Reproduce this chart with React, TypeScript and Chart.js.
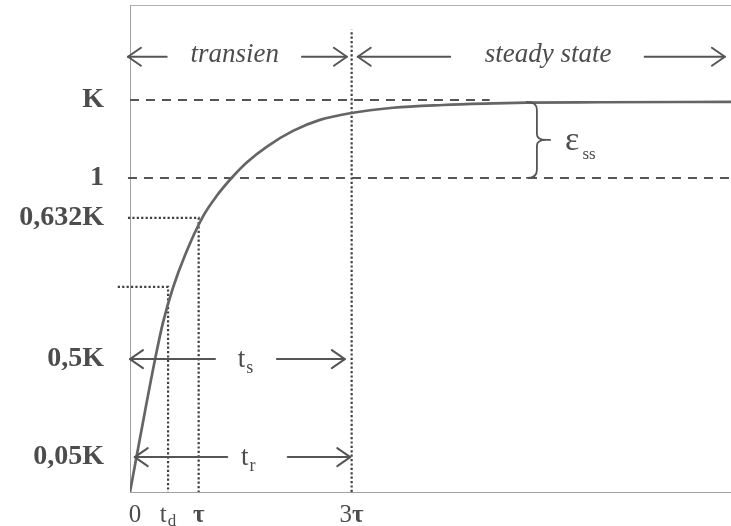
import React, { useEffect, useRef } from "react";
import { Chart, registerables } from "chart.js";

Chart.register(...registerables);

// Step response of a first-order system (schematic, K-normalised levels).
const responseTime = [0, 0.103, 0.221, 0.368, 0.485, 0.632, 0.809, 1.074, 1.279, 1.5, 1.721, 2.015, 2.397, 2.794, 3.235, 3.868, 4.603, 5.338, 5.838, 6.912, 8.84];
const responseValue = [0, 0.096, 0.206, 0.338, 0.432, 0.521, 0.604, 0.703, 0.756, 0.802, 0.841, 0.881, 0.921, 0.949, 0.966, 0.98, 0.987, 0.991, 0.993, 0.994, 0.995];

// Labelled levels on the vertical axis
const levelValues = [1, 0.801, 0.699, 0.339, 0.089];
const levelLabels = ["K", "1", "0,632K", "0,5K", "0,05K"];
const delayLevel = 0.523;

// Time marks on the horizontal axis
const timeMarks = [0, 0.56, 1.01, 3.26];
const timeMain = ["0", "t", "τ", "3τ"];
const timeSub = ["", "d", "", ""];

const timeMax = 8.84;
const valueMax = 1.242;

// Region arrows (transient / steady state) along the top
const phaseLevel = 1.11;
const phaseArrows: [number, number][] = [[0.54, -0.03], [2.53, 3.19], [4.71, 3.35], [7.57, 8.75]];
const phaseTexts = ["transien", "steady state"];
const phaseTextAt = [1.54, 6.15];

// Settling-time and rise-time spans
const spanLevels = [0.339, 0.089];
const spanArrows: [number, number][][] = [
  [[1.25, 0], [2.16, 3.16]],
  [[1.43, 0.07], [2.32, 3.24]],
];
const spanMain = ["t", "t"];
const spanSub = ["s", "r"];
const spanTextAt = [1.7, 1.74];

// Steady-state error brace between K and 1
const braceTime = 5.985;
const braceTipTime = 6.18;
const errorTextAt = 6.4;

const INK = "#4c4c4c";
const SERIF = "'Liberation Serif', 'DejaVu Serif', serif";

function drawArrow(ctx: CanvasRenderingContext2D, x1: number, y: number, x2: number) {
  const d = Math.sign(x2 - x1);
  ctx.beginPath();
  ctx.moveTo(x1, y);
  ctx.lineTo(x2, y);
  ctx.stroke();
  ctx.beginPath();
  ctx.moveTo(x2 - d * 13, y - 9);
  ctx.lineTo(x2, y);
  ctx.lineTo(x2 - d * 13, y + 9);
  ctx.stroke();
}

function drawSubText(
  ctx: CanvasRenderingContext2D,
  main: string,
  sub: string,
  cx: number,
  baseline: number,
  mainFont: string,
  subFont: string,
  subDrop: number
) {
  ctx.font = mainFont;
  const wm = ctx.measureText(main).width;
  ctx.font = subFont;
  const ws = sub ? ctx.measureText(sub).width + 1 : 0;
  const left = cx - (wm + ws) / 2;
  ctx.textAlign = "left";
  ctx.textBaseline = "alphabetic";
  ctx.font = mainFont;
  ctx.fillText(main, left, baseline);
  if (sub) {
    ctx.font = subFont;
    ctx.fillText(sub, left + wm + 1, baseline + subDrop);
  }
}

const annotations = {
  id: "responseAnnotations",
  afterDatasetsDraw(chart: any) {
    const ctx: CanvasRenderingContext2D = chart.ctx;
    const xs = chart.scales.x;
    const ys = chart.scales.y;
    ctx.save();
    ctx.strokeStyle = "#555";
    ctx.fillStyle = INK;
    ctx.lineWidth = 2;
    ctx.lineCap = "round";
    ctx.lineJoin = "round";

    // top phase arrows
    const py = ys.getPixelForValue(phaseLevel);
    phaseArrows.forEach(([a, b]) => drawArrow(ctx, xs.getPixelForValue(a), py, xs.getPixelForValue(b)));
    ctx.font = `italic 27px ${SERIF}`;
    ctx.textAlign = "center";
    ctx.textBaseline = "alphabetic";
    phaseTexts.forEach((t, i) => ctx.fillText(t, xs.getPixelForValue(phaseTextAt[i]), py + 5));

    // t_s and t_r spans
    spanLevels.forEach((lv, i) => {
      const sy = ys.getPixelForValue(lv);
      spanArrows[i].forEach(([a, b]) => drawArrow(ctx, xs.getPixelForValue(a), sy, xs.getPixelForValue(b)));
      drawSubText(ctx, spanMain[i], spanSub[i], xs.getPixelForValue(spanTextAt[i]), sy + 8,
        `27px ${SERIF}`, `18px ${SERIF}`, 6);
    });

    // brace marking the steady-state error
    const bx = xs.getPixelForValue(braceTime);
    const tx = xs.getPixelForValue(braceTipTime);
    const yT = ys.getPixelForValue(responseValue[responseValue.length - 1]);
    const yB = ys.getPixelForValue(levelValues[1]);
    const yM = (yT + yB) / 2;
    ctx.lineWidth = 1.8;
    ctx.beginPath();
    ctx.moveTo(bx - 10, yT);
    ctx.quadraticCurveTo(bx, yT, bx, yT + 8);
    ctx.lineTo(bx, yM - 6);
    ctx.quadraticCurveTo(bx, yM, tx - 4, yM);
    ctx.lineTo(tx, yM);
    ctx.moveTo(tx - 4, yM);
    ctx.quadraticCurveTo(bx, yM, bx, yM + 6);
    ctx.lineTo(bx, yB - 8);
    ctx.quadraticCurveTo(bx, yB, bx - 10, yB);
    ctx.stroke();

    ctx.textAlign = "left";
    ctx.textBaseline = "alphabetic";
    const ex = xs.getPixelForValue(errorTextAt);
    ctx.font = `34px ${SERIF}`;
    ctx.fillText("ε", ex, yM + 10);
    const ew = ctx.measureText("ε").width;
    ctx.font = `17px ${SERIF}`;
    ctx.fillText("ss", ex + ew + 3, yM + 19);

    // time axis labels
    const axisY = chart.chartArea.bottom;
    timeMarks.forEach((t, i) => {
      const cx = xs.getPixelForValue(t) + (i === 0 ? 5 : 0);
      const hasTau = timeMain[i].includes("τ");
      if (hasTau && timeMain[i].length > 1) {
        // digit regular, tau bold
        ctx.font = `25px ${SERIF}`;
        const w1 = ctx.measureText(timeMain[i][0]).width;
        ctx.font = `bold 25px ${SERIF}`;
        const w2 = ctx.measureText("τ").width;
        const left = cx - (w1 + w2) / 2;
        ctx.font = `25px ${SERIF}`;
        ctx.fillText(timeMain[i][0], left, axisY + 30);
        ctx.font = `bold 25px ${SERIF}`;
        ctx.fillText("τ", left + w1, axisY + 30);
      } else {
        drawSubText(ctx, timeMain[i], timeSub[i], cx, axisY + 30,
          `${hasTau ? "bold " : ""}25px ${SERIF}`, `17px ${SERIF}`, 4);
      }
    });
    ctx.restore();
  },
};

function pts(xs: number[], ys: number[]) {
  return xs.map((x, i) => ({ x, y: ys[i] }));
}

export default function App() {
  const ref = useRef<HTMLCanvasElement>(null);

  useEffect(() => {
    const canvas = ref.current;
    if (!canvas) return;
    const dotted = { borderColor: "#404040", borderWidth: 2.2, borderDash: [2.2, 2.2], pointRadius: 0, fill: false, clip: false as const };
    const dashed = { borderColor: "#555", borderWidth: 2, borderDash: [9, 7], pointRadius: 0, fill: false, clip: false as const };
    const chart = new Chart(canvas, {
      type: "line",
      data: {
        datasets: [
          {
            label: "response",
            data: pts(responseTime, responseValue),
            borderColor: "#656565",
            borderWidth: 2.7,
            pointRadius: 0,
            fill: false,
            cubicInterpolationMode: "monotone",
          },
          { label: "K", data: pts([0, 5.29], [levelValues[0], levelValues[0]]), ...dashed },
          { label: "1", data: pts([-0.03, timeMax], [levelValues[1], levelValues[1]]), ...dashed },
          { label: "0,632K", data: pts([-0.03, timeMarks[2], timeMarks[2]], [levelValues[2], levelValues[2], 0]), ...dotted },
          { label: "td", data: pts([-0.18, timeMarks[1], timeMarks[1]], [delayLevel, delayLevel, 0]), ...dotted },
          { label: "3tau", data: pts([timeMarks[3], timeMarks[3]], [0, 1.179]), ...dotted },
        ],
      },
      options: {
        animation: false,
        responsive: false,
        layout: { padding: { left: 0, right: 0, top: 5, bottom: 0 } },
        plugins: { legend: { display: false }, tooltip: { enabled: false } },
        scales: {
          x: {
            type: "linear",
            min: 0,
            max: timeMax,
            grid: { display: false, drawTicks: false },
            border: { display: true, color: "#a0a0a0", width: 1 },
            ticks: { display: false },
            afterBuildTicks: (s: any) => {
              s.ticks = timeMarks.map((v) => ({ value: v }));
            },
            afterFit: (s: any) => {
              s.height = 34;
              s.paddingLeft = 0;
              s.paddingRight = 0;
            },
          },
          xTop: {
            type: "linear",
            position: "top",
            grid: { display: false, drawTicks: false },
            border: { display: true, color: "#b0b0b0", width: 1 },
            ticks: { display: false },
            afterFit: (s: any) => {
              s.height = 0;
              s.paddingLeft = 0;
              s.paddingRight = 0;
            },
          },
          y: {
            type: "linear",
            min: 0,
            max: valueMax,
            grid: { display: false, drawTicks: false },
            border: { display: true, color: "#a0a0a0", width: 1 },
            afterBuildTicks: (s: any) => {
              s.ticks = levelValues.map((v) => ({ value: v }));
            },
            ticks: {
              autoSkip: false,
              padding: 26,
              color: INK,
              font: { family: SERIF, size: 28, weight: "bold" },
              callback: (_v: any, i: number) => levelLabels[i],
            },
            afterFit: (s: any) => {
              s.width = 130;
              s.paddingTop = 0;
              s.paddingBottom = 0;
            },
          },
        },
      } as any,
      plugins: [annotations],
    });
    return () => chart.destroy();
  }, []);

  return (
    <div style={{ position: "fixed", left: 0, top: 0, width: 731, height: 526, background: "#fff" }}>
      <canvas ref={ref} width={731} height={526} style={{ display: "block", width: 731, height: 526 }} />
    </div>
  );
}
